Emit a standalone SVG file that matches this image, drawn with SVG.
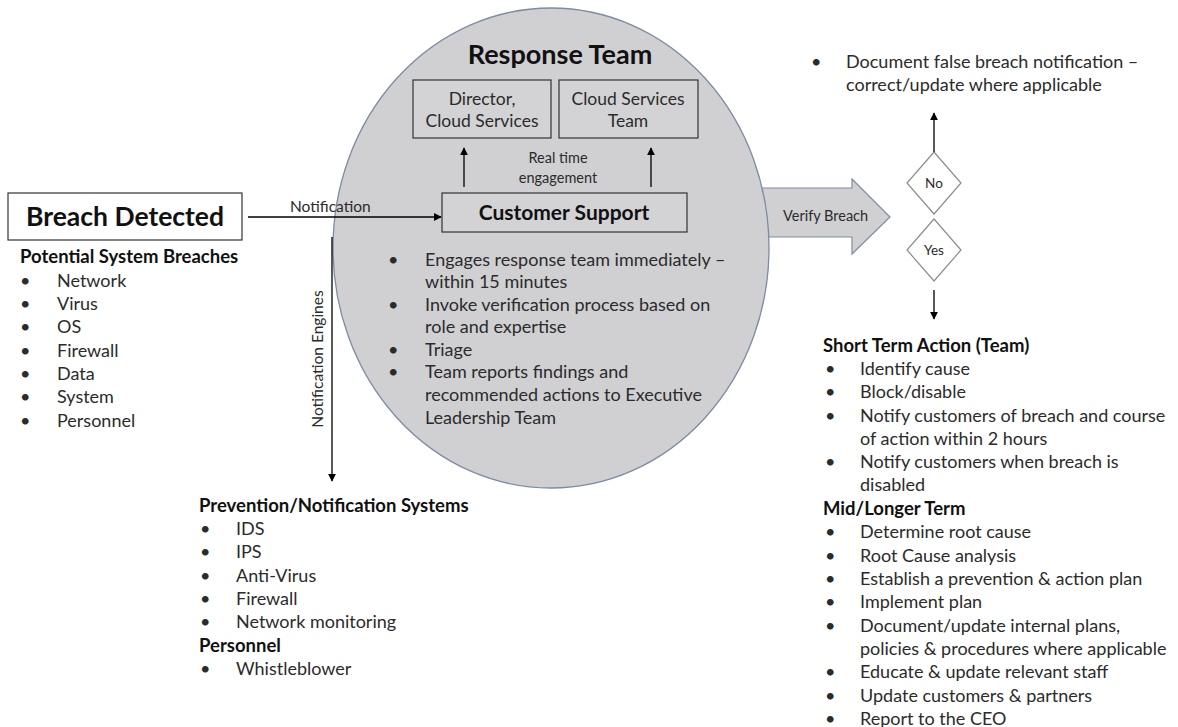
<svg xmlns="http://www.w3.org/2000/svg" width="1178" height="727" viewBox="0 0 1178 727">
  <defs>
    <marker id="ah" viewBox="0 0 10 10" refX="9" refY="5" markerWidth="8" markerHeight="8" markerUnits="userSpaceOnUse" orient="auto">
      <path d="M0,0 L10,5 L0,10 z" fill="#000"/>
    </marker>
    <style>
      text { font-family: Lato, "Open Sans", "Liberation Sans", sans-serif; fill: #2b2b2b; }
      .h { font-weight: bold; fill: #111; font-size: 18.5px; }
      .li { font-size: 18px; }
      .sm { font-size: 14.5px; }
      .nt { font-size: 15.5px; }
      .box { fill: #d3d3d6; stroke: #333; stroke-width: 1.2; }
      .bt { font-size: 17.5px; }
      .line { stroke: #000; stroke-width: 1.3; fill: none; marker-end: url(#ah); }
      .dia { fill: #fff; stroke: #8c8c8c; stroke-width: 1.2; }
    </style>
  </defs>
  <rect width="1178" height="727" fill="#fff"/>

  <!-- verify arrow (sits behind the response team circle) -->
  <g id="verify">
    <path d="M740,188 L852,188 L852,179 L890,217 L852,254 L852,237 L740,237 z" fill="#d0d0d3" stroke="#7d8ca3" stroke-width="1.2"/>
    <text class="sm" x="783" y="221">Verify Breach</text>
  </g>

  <!-- response team circle -->
  <g id="response-team">
    <ellipse cx="551" cy="248" rx="218" ry="240" fill="#d0d0d3" stroke="#7d8ca3" stroke-width="1.3"/>
    <text class="h" x="560" y="64" font-size="27" style="font-size:27px" text-anchor="middle">Response Team</text>
    <g class="li">
      <text x="388" y="266">•</text><text x="425" y="266">Engages response team immediately –</text>
      <text x="425" y="288">within 15 minutes</text>
      <text x="388" y="311">•</text><text x="425" y="311">Invoke verification process based on</text>
      <text x="425" y="333">role and expertise</text>
      <text x="388" y="356">•</text><text x="425" y="356">Triage</text>
      <text x="388" y="378">•</text><text x="425" y="378">Team reports findings and</text>
      <text x="425" y="401">recommended  actions to Executive</text>
      <text x="425" y="424">Leadership Team</text>
    </g>
  </g>

  <g id="director">
    <rect class="box" x="413" y="80" width="138" height="58"/>
    <text class="bt" x="482" y="105" text-anchor="middle">Director,</text>
    <text class="bt" x="482" y="127" text-anchor="middle">Cloud Services</text>
  </g>
  <g id="cloud-team">
    <rect class="box" x="559" y="80" width="139" height="58"/>
    <text class="bt" x="628" y="105" text-anchor="middle">Cloud Services</text>
    <text class="bt" x="628" y="127" text-anchor="middle">Team</text>
  </g>
  <g id="customer-support">
    <rect class="box" x="442" y="193" width="245" height="39"/>
    <text class="h" x="564" y="220" style="font-size:21px" text-anchor="middle">Customer Support</text>
  </g>

  <g id="breach-detected">
    <rect x="8" y="193" width="234" height="47" fill="#fff" stroke="#333" stroke-width="1.2"/>
    <text class="h" x="125" y="226" style="font-size:26.5px" text-anchor="middle">Breach Detected</text>
  </g>

  <g id="breaches-list">
    <text class="h" x="20" y="263">Potential System Breaches</text>
    <g class="li">
      <text x="20" y="287">•</text><text x="57" y="287">Network</text>
      <text x="20" y="310">•</text><text x="57" y="310">Virus</text>
      <text x="20" y="333">•</text><text x="57" y="333">OS</text>
      <text x="20" y="357">•</text><text x="57" y="357">Firewall</text>
      <text x="20" y="380">•</text><text x="57" y="380">Data</text>
      <text x="20" y="403">•</text><text x="57" y="403">System</text>
      <text x="20" y="427">•</text><text x="57" y="427">Personnel</text>
    </g>
  </g>

  <g id="prevention-list">
    <text class="h" x="199" y="512">Prevention/Notification Systems</text>
    <g class="li">
      <text x="200" y="535">•</text><text x="236" y="535">IDS</text>
      <text x="200" y="558">•</text><text x="236" y="558">IPS</text>
      <text x="200" y="582">•</text><text x="236" y="582">Anti-Virus</text>
      <text x="200" y="605">•</text><text x="236" y="605">Firewall</text>
      <text x="200" y="628">•</text><text x="236" y="628">Network  monitoring</text>
    </g>
    <text class="h" x="199" y="652">Personnel</text>
    <g class="li">
      <text x="200" y="675">•</text><text x="236" y="675">Whistleblower</text>
    </g>
  </g>

  <g id="no">
    <polygon class="dia" points="934,152 961,183 934,214 907,183"/>
    <text x="934" y="188" font-size="13.5" text-anchor="middle">No</text>
  </g>
  <g id="yes">
    <polygon class="dia" points="934,219 961,250 934,281 907,250"/>
    <text x="934" y="255" font-size="13.5" text-anchor="middle">Yes</text>
  </g>

  <g id="false-breach">
    <g class="li">
      <text x="811" y="68">•</text><text x="846" y="68">Document  false breach notification –</text>
      <text x="846" y="91">correct/update  where applicable</text>
    </g>
  </g>

  <g id="actions">
    <text class="h" x="823" y="352">Short Term Action (Team)</text>
    <g class="li">
      <text x="825" y="375">•</text><text x="860" y="375">Identify cause</text>
      <text x="825" y="398">•</text><text x="860" y="398">Block/disable</text>
      <text x="825" y="422">•</text><text x="860" y="422">Notify customers of breach and course</text>
      <text x="860" y="445">of action within 2 hours</text>
      <text x="825" y="468">•</text><text x="860" y="468">Notify customers when breach is</text>
      <text x="860" y="491">disabled</text>
    </g>
    <text class="h" x="823" y="515">Mid/Longer Term</text>
    <g class="li">
      <text x="825" y="538">•</text><text x="860" y="538">Determine root cause</text>
      <text x="825" y="562">•</text><text x="860" y="562">Root Cause analysis</text>
      <text x="825" y="585">•</text><text x="860" y="585">Establish a prevention &amp; action plan</text>
      <text x="825" y="608">•</text><text x="860" y="608">Implement  plan</text>
      <text x="825" y="632">•</text><text x="860" y="632">Document/update  internal plans,</text>
      <text x="860" y="655">policies &amp; procedures  where  applicable</text>
      <text x="825" y="678">•</text><text x="860" y="678">Educate &amp; update relevant staff</text>
      <text x="825" y="702">•</text><text x="860" y="702">Update customers &amp; partners</text>
      <text x="825" y="725">•</text><text x="860" y="725">Report to the CEO</text>
    </g>
  </g>

  <g id="connectors">
    <line class="line" x1="248" y1="217" x2="441" y2="217"/>
    <text class="nt" x="290" y="212">Notification</text>
    <line class="line" x1="332" y1="237" x2="332" y2="481"/>
    <text class="nt" transform="translate(323,359) rotate(-90)" text-anchor="middle">Notification Engines</text>
    <line class="line" x1="464" y1="187" x2="464" y2="148"/>
    <line class="line" x1="651" y1="187" x2="651" y2="148"/>
    <text class="sm" x="558" y="163" text-anchor="middle">Real time</text>
    <text class="sm" x="558" y="183" text-anchor="middle">engagement</text>
    <line class="line" x1="934" y1="152" x2="934" y2="113"/>
    <line class="line" x1="934" y1="290" x2="934" y2="319"/>
  </g>
</svg>
